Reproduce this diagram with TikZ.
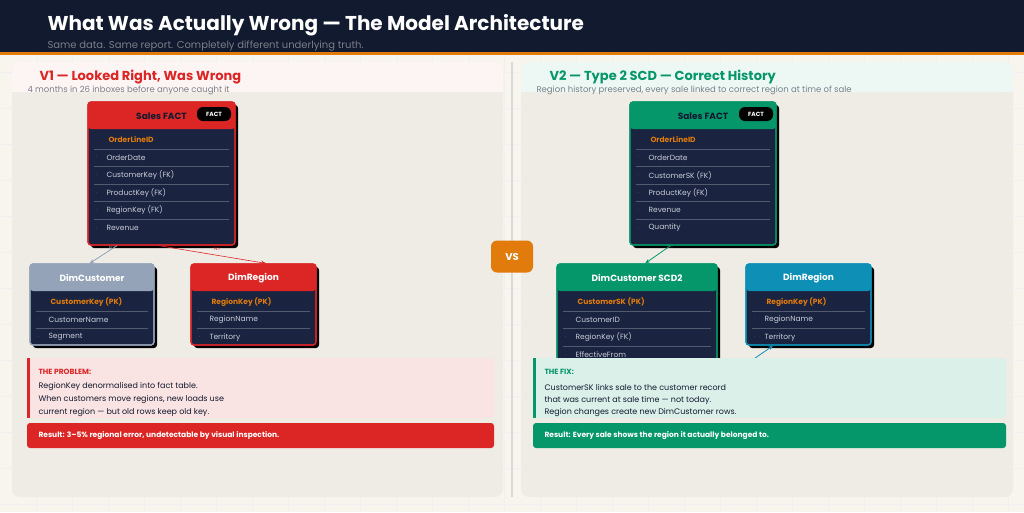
\documentclass[tikz,border=0pt]{standalone}
\usepackage{fontspec}
\setmainfont{Poppins}
\usetikzlibrary{calc,arrows.meta}
\definecolor{navy}{HTML}{111A2E}
\definecolor{tblbody}{HTML}{1A2340}
\definecolor{pagebg}{HTML}{F8F5EE}
\definecolor{panelbg}{HTML}{EFECE6}
\definecolor{badred}{HTML}{DC2626}
\definecolor{goodgreen}{HTML}{059669}
\definecolor{slate}{HTML}{94A3B8}
\definecolor{teal}{HTML}{0E8FB5}
\definecolor{pkorange}{HTML}{E07B0C}
\definecolor{rowtxt}{HTML}{C9CED8}
\definecolor{greytxt}{HTML}{7A7F88}
\tikzset{
  tbl/.style={draw=#1, line width=1.2pt, fill=tblbody, rounded corners=3pt, inner sep=0pt},
  tblshadow/.style={fill=black, rounded corners=3pt},
  tbltitle/.style={font=\fontsize{9}{10}\selectfont\bfseries},
  pkrow/.style={anchor=west, font=\fontsize{7.5}{9}\selectfont\bfseries, text=pkorange},
  row/.style={anchor=west, font=\fontsize{7.5}{9}\selectfont, text=rowtxt},
  rowdot/.style={anchor=center, font=\tiny, text=greytxt},
  card/.style={font=\fontsize{4.5}{5}\selectfont, text=#1},
  note/.style={anchor=west, font=\fontsize{8}{10}\selectfont, text=navy},
  arr/.style={-{Stealth[length=5pt]}, line width=0.8pt}
}
% table: name, left, top, width, height, colour, title, title colour
\newcommand{\ertable}[8]{
  \fill[tblshadow] (#2+3,#3+3) rectangle ++(#4,#5);
  \node[tbl=#6, minimum width=#4, minimum height=#5] (#1) at (#2+#4/2,#3+#5/2) {};
  \fill[#6, rounded corners=3pt] (#2,#3) rectangle ++(#4,27);
  \draw[#6, line width=1.2pt, rounded corners=3pt] (#2,#3) rectangle ++(#4,#5);
  \node[tbltitle, text=#8] (#1-title) at (#2+#4/2,#3+14) {#7};
}
% rows: name, left, top, width, pk text, list of other rows
\newcommand{\errows}[6]{
  \node[pkrow] (#1-pk) at (#2+17,#3+38) {#5};
  \foreach \txt [count=\i] in {#6} {
    \draw[white!25!tblbody, line width=0.5pt] (#2+6,#3+38+\i*17.6-8.8) -- (#2+#4-6,#3+38+\i*17.6-8.8);
    \node[rowdot] at (#2+9,#3+38+\i*17.6) {.};
    \node[row] at (#2+15,#3+38+\i*17.6) {\txt};
  }
}
\begin{document}
\begin{tikzpicture}[x=1pt,y=-1pt]
  \useasboundingbox (0,0) rectangle (1024,512);
  \fill[pagebg] (0,0) rectangle (1024,512);
  \foreach \gx in {36,72,...,1008} \draw[black!6, line width=0.4pt] (\gx,54) -- (\gx,512);
  \foreach \gy in {72,108,...,504} \draw[black!6, line width=0.4pt] (0,\gy) -- (1024,\gy);

  % header
  \fill[navy] (0,0) rectangle (1024,52);
  \fill[pkorange] (0,52) rectangle (1024,54.5);
  \node[anchor=west, text=white, font=\fontsize{20}{22}\selectfont\bfseries] (title) at (44,25) {What Was Actually Wrong — The Model Architecture};
  \node[anchor=west, text=greytxt, font=\fontsize{10}{12}\selectfont] (subtitle) at (44,46) {Same data. Same report. Completely different underlying truth.};

  % panels
  \fill[panelbg, rounded corners=8pt] (12,62) rectangle (503,497);
  \fill[panelbg, rounded corners=8pt] (521,62) rectangle (1013,497);
  \fill[badred!5, rounded corners=8pt] (12,62) rectangle (503,92);
  \fill[goodgreen!7, rounded corners=8pt] (521,62) rectangle (1013,92);
  \fill[badred!5] (12,80) rectangle (503,92);
  \fill[goodgreen!7] (521,80) rectangle (1013,92);
  \draw[black!15, line width=1.5pt] (512,62) -- (512,497);

  \node[anchor=west, text=badred, font=\fontsize{13}{15}\selectfont\bfseries] (v1head) at (36,77) {V1 — Looked Right, Was Wrong};
  \node[anchor=west, text=greytxt, font=\fontsize{8.5}{10}\selectfont] (v1sub) at (24,90) {4 months in 26 inboxes before anyone caught it};
  \node[anchor=west, text=goodgreen, font=\fontsize{13}{15}\selectfont\bfseries] (v2head) at (546,77) {V2 — Type 2 SCD — Correct History};
  \node[anchor=west, text=greytxt, font=\fontsize{8.5}{10}\selectfont] (v2sub) at (533,90) {Region history preserved, every sale linked to correct region at time of sale};

  % V1 tables
  \ertable{v1fact}{88}{102}{147}{143}{badred}{Sales FACT}{navy}
  \errows{v1fact}{88}{102}{147}{OrderLineID}{OrderDate,CustomerKey (FK),ProductKey (FK),RegionKey (FK),Revenue}
  \node[fill=black, rounded corners=6pt, text=white, font=\fontsize{6}{7}\selectfont\bfseries, minimum width=34, minimum height=14, inner sep=0pt] (v1badge) at (214,114) {FACT};
  \ertable{v1cust}{30}{264}{124}{81}{slate}{DimCustomer}{white}
  \errows{v1cust}{30}{264}{124}{CustomerKey (PK)}{CustomerName,Segment}
  \ertable{v1reg}{191}{264}{125}{81}{badred}{DimRegion}{white}
  \errows{v1reg}{191}{264}{125}{RegionKey (PK)}{RegionName,Territory}

  \draw[arr, slate] ($(v1fact.south west)!0.2!(v1fact.south east)$) -- ($(v1cust.north west)!0.48!(v1cust.north east)$);
  \draw[arr, badred, line width=0.6pt] ($(v1fact.south west)!0.48!(v1fact.south east)$) -- ($(v1reg.north west)!0.6!(v1reg.north east)$);
  \node[card=slate] (v1n1) at (112,248) {N:1};
  \node[card=badred] (v1n2) at (217,249) {N:1};

  % V2 tables
  \ertable{v2fact}{630}{102}{146}{143}{goodgreen}{Sales FACT}{navy}
  \errows{v2fact}{630}{102}{146}{OrderLineID}{OrderDate,CustomerSK (FK),ProductKey (FK),Revenue,Quantity}
  \node[fill=black, rounded corners=6pt, text=white, font=\fontsize{6}{7}\selectfont\bfseries, minimum width=34, minimum height=14, inner sep=0pt] (v2badge) at (756,114) {FACT};
  \ertable{v2cust}{557}{264}{160}{100}{goodgreen}{DimCustomer SCD2}{white}
  \errows{v2cust}{557}{264}{160}{CustomerSK (PK)}{CustomerID,RegionKey (FK),EffectiveFrom}
  \ertable{v2reg}{746}{264}{125}{81}{teal}{DimRegion}{white}
  \errows{v2reg}{746}{264}{125}{RegionKey (PK)}{RegionName,Territory}

  \draw[arr, goodgreen] ($(v2fact.south west)!0.28!(v2fact.south east)$) -- ($(v2cust.north west)!0.55!(v2cust.north east)$);
  \node[card=goodgreen] (v2n1) at (670,246) {N:1};
  \coordinate (v2tail) at (745,365);
  \draw[arr, teal] (v2tail) -- ($(v2reg.south west)!0.22!(v2reg.south east)$);

  % VS badge
  \node[fill=pkorange, rounded corners=6pt, minimum width=42, minimum height=32, text=white, font=\fontsize{10}{12}\selectfont\bfseries] (vs) at (512,256.5) {VS};

  % V1 notes
  \fill[badred!13, rounded corners=3pt] (27,358) rectangle (494,418);
  \fill[badred] (27,358) rectangle (30,418);
  \node[anchor=west, text=badred, font=\fontsize{7.5}{9}\selectfont\bfseries] (v1prob) at (35,372) {THE PROBLEM:};
  \node[note] (v1l1) at (35,387) {RegionKey denormalised into fact table.};
  \node[note] (v1l2) at (35,400) {When customers move regions, new loads use};
  \node[note] (v1l3) at (35,413) {current region — but old rows keep old key.};
  \fill[badred, rounded corners=3pt] (27,423) rectangle (494,448);
  \node[anchor=west, text=white, font=\fontsize{7.5}{9}\selectfont\bfseries] (v1res) at (35,435.5) {Result: 3–5\% regional error, undetectable by visual inspection.};

  % V2 notes
  \fill[goodgreen!14, rounded corners=3pt] (533,358) rectangle (1006,418);
  \fill[goodgreen] (533,358) rectangle (536,418);
  \node[anchor=west, text=goodgreen, font=\fontsize{7.5}{9}\selectfont\bfseries] (v2fix) at (541,372) {THE FIX:};
  \node[note] (v2l1) at (541,387) {CustomerSK links sale to the customer record};
  \node[note] (v2l2) at (541,400) {that was current at sale time — not today.};
  \node[note] (v2l3) at (541,413) {Region changes create new DimCustomer rows.};
  \fill[goodgreen, rounded corners=3pt] (533,423) rectangle (1006,448);
  \node[anchor=west, text=white, font=\fontsize{7.5}{9}\selectfont\bfseries] (v2res) at (541,435.5) {Result: Every sale shows the region it actually belonged to.};
\end{tikzpicture}
\end{document}
